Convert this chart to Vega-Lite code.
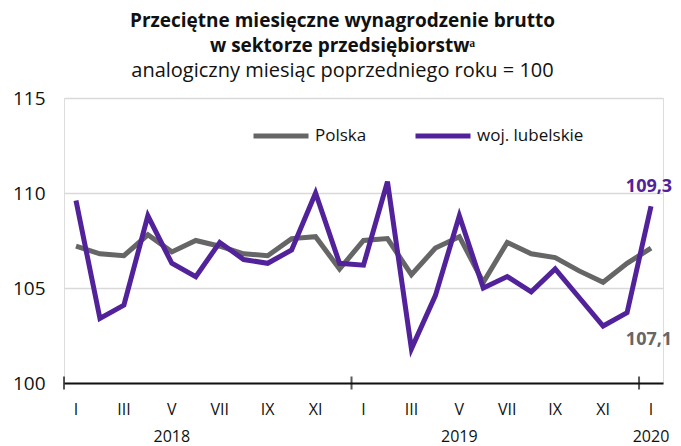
{
  "$schema": "https://vega.github.io/schema/vega-lite/v6.json",
  "autosize": {"type": "none"},
  "width": 599,
  "height": 285,
  "padding": {"left": 64, "top": 98, "right": 18, "bottom": 63},
  "background": "white",
  "title": {
    "text": ["Przeciętne miesięczne wynagrodzenie brutto", "w sektorze przedsiębiorstwᵃ"],
    "subtitle": "analogiczny miesiąc poprzedniego roku = 100",
    "anchor": "middle",
    "dx": -21,
    "offset": 8,
    "font": "Open Sans",
    "fontSize": 19,
    "fontWeight": "bold",
    "lineHeight": 25,
    "color": "#111111",
    "subtitleFont": "Open Sans",
    "subtitleFontSize": 20,
    "subtitleColor": "#111111",
    "subtitlePadding": 5
  },
  "datasets": {
    "rows": [
      {"m": "2018-01", "s": "Polska", "v": 107.2},
      {"m": "2018-02", "s": "Polska", "v": 106.8},
      {"m": "2018-03", "s": "Polska", "v": 106.7},
      {"m": "2018-04", "s": "Polska", "v": 107.8},
      {"m": "2018-05", "s": "Polska", "v": 106.9},
      {"m": "2018-06", "s": "Polska", "v": 107.5},
      {"m": "2018-07", "s": "Polska", "v": 107.2},
      {"m": "2018-08", "s": "Polska", "v": 106.8},
      {"m": "2018-09", "s": "Polska", "v": 106.7},
      {"m": "2018-10", "s": "Polska", "v": 107.6},
      {"m": "2018-11", "s": "Polska", "v": 107.7},
      {"m": "2018-12", "s": "Polska", "v": 106.0},
      {"m": "2019-01", "s": "Polska", "v": 107.5},
      {"m": "2019-02", "s": "Polska", "v": 107.6},
      {"m": "2019-03", "s": "Polska", "v": 105.7},
      {"m": "2019-04", "s": "Polska", "v": 107.1},
      {"m": "2019-05", "s": "Polska", "v": 107.7},
      {"m": "2019-06", "s": "Polska", "v": 105.3},
      {"m": "2019-07", "s": "Polska", "v": 107.4},
      {"m": "2019-08", "s": "Polska", "v": 106.8},
      {"m": "2019-09", "s": "Polska", "v": 106.6},
      {"m": "2019-10", "s": "Polska", "v": 105.9},
      {"m": "2019-11", "s": "Polska", "v": 105.3},
      {"m": "2019-12", "s": "Polska", "v": 106.3},
      {"m": "2020-01", "s": "Polska", "v": 107.1},
      {"m": "2018-01", "s": "woj. lubelskie", "v": 109.6},
      {"m": "2018-02", "s": "woj. lubelskie", "v": 103.4},
      {"m": "2018-03", "s": "woj. lubelskie", "v": 104.1},
      {"m": "2018-04", "s": "woj. lubelskie", "v": 108.8},
      {"m": "2018-05", "s": "woj. lubelskie", "v": 106.3},
      {"m": "2018-06", "s": "woj. lubelskie", "v": 105.6},
      {"m": "2018-07", "s": "woj. lubelskie", "v": 107.4},
      {"m": "2018-08", "s": "woj. lubelskie", "v": 106.5},
      {"m": "2018-09", "s": "woj. lubelskie", "v": 106.3},
      {"m": "2018-10", "s": "woj. lubelskie", "v": 107.0},
      {"m": "2018-11", "s": "woj. lubelskie", "v": 110.0},
      {"m": "2018-12", "s": "woj. lubelskie", "v": 106.3},
      {"m": "2019-01", "s": "woj. lubelskie", "v": 106.2},
      {"m": "2019-02", "s": "woj. lubelskie", "v": 110.6},
      {"m": "2019-03", "s": "woj. lubelskie", "v": 101.8},
      {"m": "2019-04", "s": "woj. lubelskie", "v": 104.6},
      {"m": "2019-05", "s": "woj. lubelskie", "v": 108.8},
      {"m": "2019-06", "s": "woj. lubelskie", "v": 105.0},
      {"m": "2019-07", "s": "woj. lubelskie", "v": 105.6},
      {"m": "2019-08", "s": "woj. lubelskie", "v": 104.8},
      {"m": "2019-09", "s": "woj. lubelskie", "v": 106.0},
      {"m": "2019-10", "s": "woj. lubelskie", "v": 104.5},
      {"m": "2019-11", "s": "woj. lubelskie", "v": 103.0},
      {"m": "2019-12", "s": "woj. lubelskie", "v": 103.7},
      {"m": "2020-01", "s": "woj. lubelskie", "v": 109.3}
    ]
  },
  "data": {"name": "rows"},
  "layer": [
    {
      "mark": {"type": "line", "strokeWidth": 5},
      "encoding": {
        "x": {
          "field": "m",
          "type": "ordinal",
          "sort": null,
          "scale": {"type": "band", "paddingInner": 0, "paddingOuter": 0},
          "axis": {
            "title": null,
            "domainColor": "#111111",
            "domainWidth": 2,
            "ticks": false,
            "labelAngle": 0,
            "labelOverlap": false,
            "labelBound": false,
            "labelFlush": false,
            "labelPadding": 18,
            "labelFont": "Open Sans",
            "labelFontSize": 16,
            "labelColor": "#111111",
            "labelLineHeight": 27,
            "labelBaseline": "top",
            "labelExpr": "(toNumber(slice(datum.value,5)) % 2 == 0) ? '' : ((slice(datum.value,5)=='05' || datum.value=='2020-01') ? [['I','II','III','IV','V','VI','VII','VIII','IX','X','XI','XII'][toNumber(slice(datum.value,5))-1], slice(datum.value,0,4)] : ['I','II','III','IV','V','VI','VII','VIII','IX','X','XI','XII'][toNumber(slice(datum.value,5))-1])"
          }
        },
        "y": {
          "field": "v",
          "type": "quantitative",
          "scale": {"domain": [100, 115], "nice": false, "zero": false},
          "axis": {
            "title": null,
            "values": [100, 105, 110, 115],
            "domain": false,
            "ticks": false,
            "grid": true,
            "gridColor": "#d9d9d9",
            "gridWidth": 1.5,
            "labelPadding": 19,
            "labelFont": "Open Sans",
            "labelFontSize": 19,
            "labelColor": "#111111"
          }
        },
        "color": {
          "field": "s",
          "type": "nominal",
          "scale": {"domain": ["Polska", "woj. lubelskie"], "range": ["#666666", "#52229b"]},
          "legend": {
            "title": null,
            "orient": "none",
            "legendX": 187,
            "legendY": 8,
            "direction": "horizontal",
            "symbolType": "stroke",
            "symbolSize": 3025,
            "symbolStrokeWidth": 5,
            "labelFont": "Open Sans",
            "labelFontSize": 17,
            "labelColor": "#111111",
            "labelOffset": 4,
            "columnPadding": 38
          }
        }
      }
    },
    {
      "transform": [{"filter": "datum.s == 'Polska' && slice(datum.m, 5) == '01'"}],
      "mark": {"type": "tick", "orient": "vertical", "color": "#111111", "thickness": 2, "size": 13},
      "encoding": {
        "x": {"field": "m", "type": "ordinal", "sort": null, "bandPosition": 0},
        "y": {"datum": 100}
      }
    },
    {
      "transform": [
        {"filter": "datum.m == '2020-01' && datum.s == 'woj. lubelskie'"},
        {"calculate": "replace(format(datum.v, '.1f'), '.', ',')", "as": "lab"}
      ],
      "mark": {"type": "text", "dy": -19, "dx": -2, "font": "Open Sans", "fontWeight": "bold", "fontSize": 18, "color": "#52229b"},
      "encoding": {
        "x": {"field": "m", "type": "ordinal", "sort": null},
        "y": {"field": "v", "type": "quantitative"},
        "text": {"field": "lab"}
      }
    },
    {
      "transform": [
        {"filter": "datum.m == '2020-01' && datum.s == 'Polska'"},
        {"calculate": "replace(format(datum.v, '.1f'), '.', ',')", "as": "lab"}
      ],
      "mark": {"type": "text", "dy": 92, "dx": -2, "font": "Open Sans", "fontWeight": "bold", "fontSize": 18, "color": "#666666"},
      "encoding": {
        "x": {"field": "m", "type": "ordinal", "sort": null},
        "y": {"field": "v", "type": "quantitative"},
        "text": {"field": "lab"}
      }
    }
  ]
}
